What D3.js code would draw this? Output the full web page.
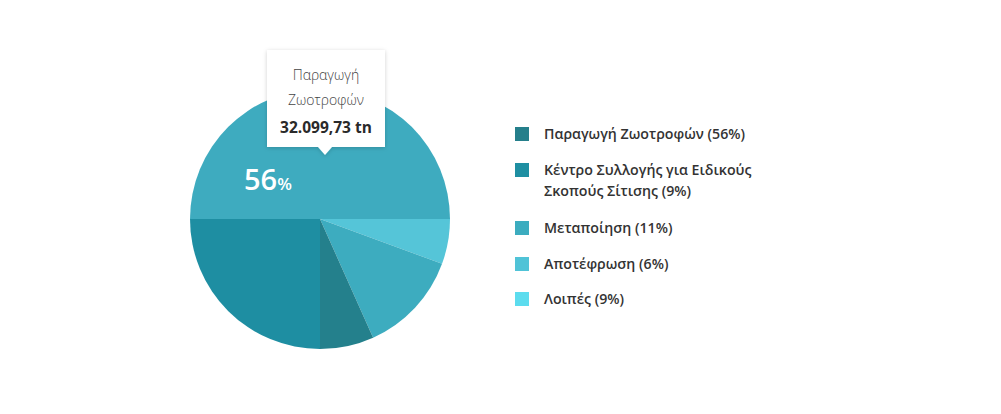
<!DOCTYPE html>
<html><head><meta charset="utf-8">
<script src="https://cdn.jsdelivr.net/npm/d3@7"></script>
<style>
html,body{margin:0;padding:0;background:#fff;}
svg{display:block;font-family:"Open Sans",sans-serif;}
</style></head>
<body><svg id="c" width="1001" height="414"></svg>
<script>
// Legend categories and their stated percentages
const categories = ["Παραγωγή Ζωοτροφών", "Κέντρο Συλλογής για Ειδικούς Σκοπούς Σίτισης", "Μεταποίηση", "Αποτέφρωση", "Λοιπές"];
const legendLines = [["Παραγωγή Ζωοτροφών (56%)"], ["Κέντρο Συλλογής για Ειδικούς", "Σκοπούς Σίτισης (9%)"], ["Μεταποίηση (11%)"], ["Αποτέφρωση (6%)"], ["Λοιπές (9%)"]];
const percents = [56, 9, 11, 6, 9];
const legendColors = ["#257f8b", "#1e8fa2", "#3cacbf", "#50c3d7", "#5cdcee"];
// Slices as drawn in the picture (share of the circle, clockwise from 9 o'clock)
const sliceShares = [50, 5.6, 12.7, 6.7, 25];
const sliceColors = ["#3eabbf", "#55c5d8", "#3dacbf", "#24808c", "#1e8ea2"];
const tooltipTitle = ["Παραγωγή", "Ζωοτροφών"];
const tooltipValue = "32.099,73 tn";

const svg = d3.select("#c");
const cx = 320, cy = 219, r = 130;
const pie = d3.pie().sort(null).value(d => d).startAngle(-Math.PI/2).endAngle(1.5*Math.PI);
const arc = d3.arc().innerRadius(0).outerRadius(r);
const g = svg.append("g").attr("transform", `translate(${cx},${cy})`);
g.selectAll("path").data(pie(sliceShares)).join("path")
  .attr("d", arc).attr("fill", (d,i) => sliceColors[i]);

// percent label
const lab = svg.append("text").attr("x", 244).attr("y", 190).attr("fill", "#fff");
lab.append("tspan").attr("font-size", 29).attr("font-weight", 600).text(percents[0]);
lab.append("tspan").attr("font-size", 17).attr("font-weight", 600).text("%");

// tooltip
const defs = svg.append("defs");
const f = defs.append("filter").attr("id","sh").attr("x","-20%").attr("y","-20%").attr("width","140%").attr("height","140%");
f.append("feDropShadow").attr("dx",0).attr("dy",1).attr("stdDeviation",2).attr("flood-color","#000").attr("flood-opacity",0.18);
const tx = 267, ty = 50, tw = 118, th = 97, px = 325;
svg.append("path").attr("filter","url(#sh)").attr("fill","#fff")
  .attr("d", `M${tx},${ty}H${tx+tw}V${ty+th}H${px+7}L${px},${ty+th+8}L${px-7},${ty+th}H${tx}Z`);
const tcx = tx + tw/2;
tooltipTitle.forEach((t,i) => {
  svg.append("text").attr("x", tcx).attr("y", 80 + i*25).attr("text-anchor","middle")
    .attr("font-size", 14).attr("font-weight", 300).attr("fill", "#444").text(t);
});
svg.append("text").attr("x", tcx).attr("y", 133).attr("text-anchor","middle")
  .attr("font-size", 15.5).attr("font-weight", 700).attr("fill", "#2a2a2a").text(tooltipValue);

// legend
const rowY = [134, 170, 228, 264, 299];
const lg = svg.append("g");
legendLines.forEach((lines, i) => {
  lg.append("rect").attr("x", 515).attr("y", rowY[i]-7).attr("width", 14).attr("height", 14).attr("fill", legendColors[i]);
  lines.forEach((t, j) => {
    lg.append("text").attr("x", 544).attr("y", rowY[i] + 5 + j*21)
      .attr("font-size", 14.2).attr("font-weight", 600).attr("fill", "#333").text(t);
  });
});
</script></body></html>
